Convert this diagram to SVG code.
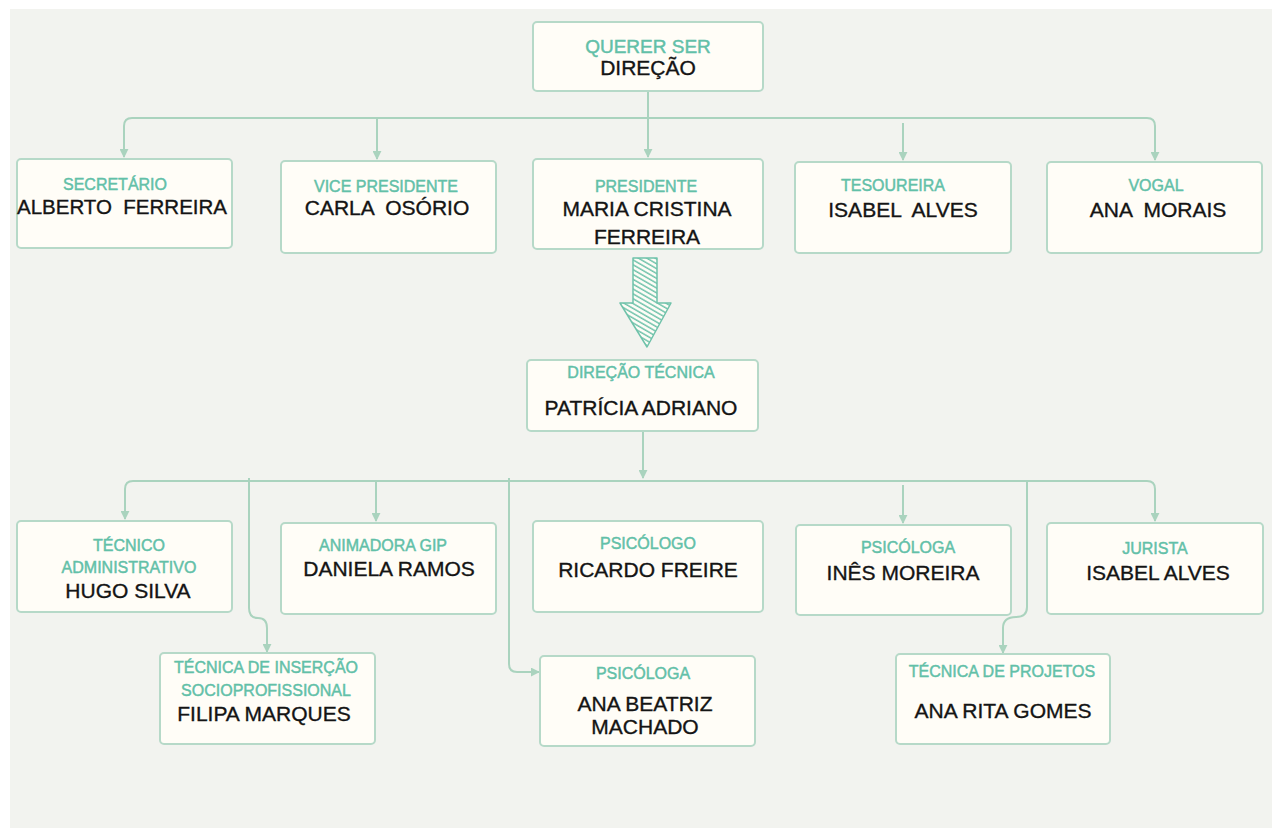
<svg xmlns="http://www.w3.org/2000/svg" width="1272" height="828" viewBox="0 0 1272 828">
<style>
.box{fill:#fffdf7;stroke:#b6d9c8;stroke-width:2}
.lbl{font-family:"Liberation Sans",Arial,sans-serif;font-size:16px;fill:#62c0a8;stroke:#62c0a8;stroke-width:0.45;text-anchor:middle}
.nm{font-family:"Liberation Sans",Arial,sans-serif;font-size:21px;fill:#141414;stroke:#141414;stroke-width:0.35;text-anchor:middle}
.con{fill:none;stroke:#aad3be;stroke-width:2}
</style>
<defs>
<marker id="ah" viewBox="0 0 10 10" refX="9" refY="5" markerWidth="9" markerHeight="9" markerUnits="userSpaceOnUse" orient="auto">
<path d="M0,0 L10,5 L0,10 z" fill="#aad3be"/>
</marker>
<pattern id="hatch" patternUnits="userSpaceOnUse" width="4.2" height="4.2" patternTransform="rotate(30)">
<rect width="4.2" height="4.2" fill="#fffdf7"/>
<line x1="0" y1="1" x2="4.2" y2="1" stroke="#6fc2aa" stroke-width="1.5"/>
</pattern>
</defs>
<rect x="0" y="0" width="1272" height="828" fill="#ffffff"/>
<rect x="10" y="9" width="1262" height="819" fill="#f2f3ef"/>

<g id="connectors">
<path class="con" d="M648,91 V157" marker-end="url(#ah)"/>
<path class="con" d="M124,157 V126 Q124,118 132,118 H1147 Q1155,118 1155,126 V160" marker-end="url(#ah)"/>
<path class="con" d="M124,126 V157" marker-end="url(#ah)"/>
<path class="con" d="M377,118 V159" marker-end="url(#ah)"/>
<path class="con" d="M903,123 V160" marker-end="url(#ah)"/>
<path class="con" d="M643,431 V478" marker-end="url(#ah)"/>
<path class="con" d="M125,489 Q125,481 133,481 H1147 Q1155,481 1155,489 V521" marker-end="url(#ah)"/>
<path class="con" d="M125,489 V519" marker-end="url(#ah)"/>
<path class="con" d="M376,481 V521" marker-end="url(#ah)"/>
<path class="con" d="M903,485 V523" marker-end="url(#ah)"/>
<path class="con" d="M249,478 V608 Q249,618 258,618 Q267,618 267,628 V652" marker-end="url(#ah)"/>
<path class="con" d="M509,478 V664 Q509,672 517,672 H539" marker-end="url(#ah)"/>
<path class="con" d="M1027,481 V607 Q1027,617 1016,617 Q1003,617 1003,628 V653" marker-end="url(#ah)"/>
<polygon points="633,258 657,258 657,303 671,303 647,347 620,303 633,303" fill="url(#hatch)" stroke="#6fc2aa" stroke-width="1.5" stroke-linejoin="round"/>
</g>

<g id="querer-ser">
<rect class="box" x="533" y="22" width="230" height="69" rx="4"/>
<text class="lbl" x="648" y="53" style="font-size:19px">QUERER SER</text>
<text class="nm" x="648" y="75">DIREÇÃO</text>
</g>

<g id="secretario">
<rect class="box" x="17" y="159" width="215" height="89" rx="4"/>
<text class="lbl" x="115" y="190">SECRETÁRIO</text>
<text class="nm" x="122" y="214" style="font-size:20.5px" xml:space="preserve">ALBERTO  FERREIRA</text>
</g>

<g id="vice-presidente">
<rect class="box" x="281" y="161" width="215" height="92" rx="4"/>
<text class="lbl" x="386" y="192">VICE PRESIDENTE</text>
<text class="nm" x="387" y="215" xml:space="preserve">CARLA  OSÓRIO</text>
</g>

<g id="presidente">
<rect class="box" x="533" y="159" width="230" height="90" rx="4"/>
<text class="lbl" x="646" y="192">PRESIDENTE</text>
<text class="nm" x="647" y="216">MARIA CRISTINA</text>
<text class="nm" x="647" y="244">FERREIRA</text>
</g>

<g id="tesoureira">
<rect class="box" x="795" y="162" width="216" height="91" rx="4"/>
<text class="lbl" x="893" y="191">TESOUREIRA</text>
<text class="nm" x="903" y="217" xml:space="preserve">ISABEL  ALVES</text>
</g>

<g id="vogal">
<rect class="box" x="1047" y="162" width="215" height="91" rx="4"/>
<text class="lbl" x="1156" y="191">VOGAL</text>
<text class="nm" x="1158" y="217" xml:space="preserve">ANA  MORAIS</text>
</g>

<g id="direcao-tecnica">
<rect class="box" x="527" y="360" width="231" height="71" rx="4"/>
<text class="lbl" x="641" y="378">DIREÇÃO TÉCNICA</text>
<text class="nm" x="641" y="415">PATRÍCIA ADRIANO</text>
</g>

<g id="tecnico-administrativo">
<rect class="box" x="17" y="521" width="215" height="91" rx="4"/>
<text class="lbl" x="129" y="551">TÉCNICO</text>
<text class="lbl" x="129" y="573">ADMINISTRATIVO</text>
<text class="nm" x="128" y="598">HUGO SILVA</text>
</g>

<g id="animadora-gip">
<rect class="box" x="281" y="523" width="215" height="91" rx="4"/>
<text class="lbl" x="383" y="551">ANIMADORA GIP</text>
<text class="nm" x="389" y="576">DANIELA RAMOS</text>
</g>

<g id="psicologo">
<rect class="box" x="533" y="521" width="230" height="91" rx="4"/>
<text class="lbl" x="648" y="549">PSICÓLOGO</text>
<text class="nm" x="648" y="577">RICARDO FREIRE</text>
</g>

<g id="psicologa-ines">
<rect class="box" x="796" y="525" width="215" height="90" rx="4"/>
<text class="lbl" x="908" y="553">PSICÓLOGA</text>
<text class="nm" x="903" y="580">INÊS MOREIRA</text>
</g>

<g id="jurista">
<rect class="box" x="1047" y="523" width="216" height="91" rx="4"/>
<text class="lbl" x="1155" y="554">JURISTA</text>
<text class="nm" x="1158" y="580">ISABEL ALVES</text>
</g>

<g id="tecnica-insercao">
<rect class="box" x="160" y="653" width="215" height="91" rx="4"/>
<text class="lbl" x="266" y="673">TÉCNICA DE INSERÇÃO</text>
<text class="lbl" x="266" y="696">SOCIOPROFISSIONAL</text>
<text class="nm" x="264" y="721">FILIPA MARQUES</text>
</g>

<g id="psicologa-ana">
<rect class="box" x="540" y="656" width="215" height="90" rx="4"/>
<text class="lbl" x="643" y="679">PSICÓLOGA</text>
<text class="nm" x="645" y="711">ANA BEATRIZ</text>
<text class="nm" x="645" y="734">MACHADO</text>
</g>

<g id="tecnica-projetos">
<rect class="box" x="896" y="654" width="214" height="90" rx="4"/>
<text class="lbl" x="1002" y="677">TÉCNICA DE PROJETOS</text>
<text class="nm" x="1003" y="718">ANA RITA GOMES</text>
</g>
</svg>
